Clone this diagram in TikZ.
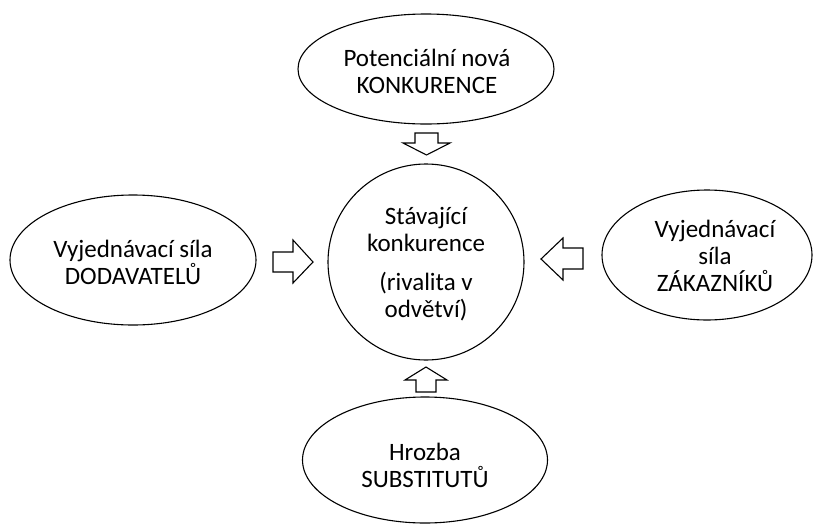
\documentclass[tikz,border=0pt]{standalone}
\usepackage{fontspec}
\setmainfont{Carlito}
\usetikzlibrary{shapes.geometric}
\begin{document}
\begin{tikzpicture}[x=1pt,y=-1pt,
  shapebox/.style={draw=black, line width=1.1pt, ellipse, inner sep=0pt},
  txt/.style={align=center, inner sep=0pt, font=\fontsize{25}{27}\selectfont, text=black},
  blockarrow/.style={draw=black, line width=1.1pt, fill=white, line join=miter}]
\useasboundingbox (0,0) rectangle (815,523);
% shapes
\node[shapebox, minimum width=256pt, minimum height=110pt] (top) at (426,69) {};
\node[shapebox, minimum width=246pt, minimum height=130pt] (left) at (133,260) {};
\node[shapebox, minimum width=210pt, minimum height=130pt] (right) at (707,255) {};
\node[shapebox, minimum width=245pt, minimum height=126pt] (bottom) at (425,460) {};
\node[draw=black, line width=1.1pt, circle, minimum size=196pt, inner sep=0pt] (center) at (426,262) {};
% texts
\node[txt] (ttop) at (427,71) {Potenciální nová\\KONKURENCE};
\node[txt] (tleft) at (133,262) {Vyjednávací síla\\DODAVATELŮ};
\node[txt] (tright) at (715,256) {Vyjednávací\\síla\\ZÁKAZNÍKŮ};
\node[txt] (tbottom) at (425,465) {Hrozba\\SUBSTITUTŮ};
\node[txt] (tcenter) at (426,264) {Stávající\\konkurence\\[12pt](rivalita v\\odvětví)};
% block arrows
\draw[blockarrow] (415,133) -- (438,133) -- (438,143) -- (450,143) -- (426.5,155) -- (403,143) -- (415,143) -- cycle;
\draw[blockarrow] (273,252) -- (293,252) -- (293,240) -- (313,262) -- (293,283) -- (293,272) -- (273,272) -- cycle;
\draw[blockarrow] (583,248) -- (563,248) -- (563,238) -- (541,259) -- (563,280) -- (563,269) -- (583,269) -- cycle;
\draw[blockarrow] (416,392) -- (416,380) -- (405,380) -- (426,367) -- (447,380) -- (436,380) -- (436,392) -- cycle;
\end{tikzpicture}
\end{document}
